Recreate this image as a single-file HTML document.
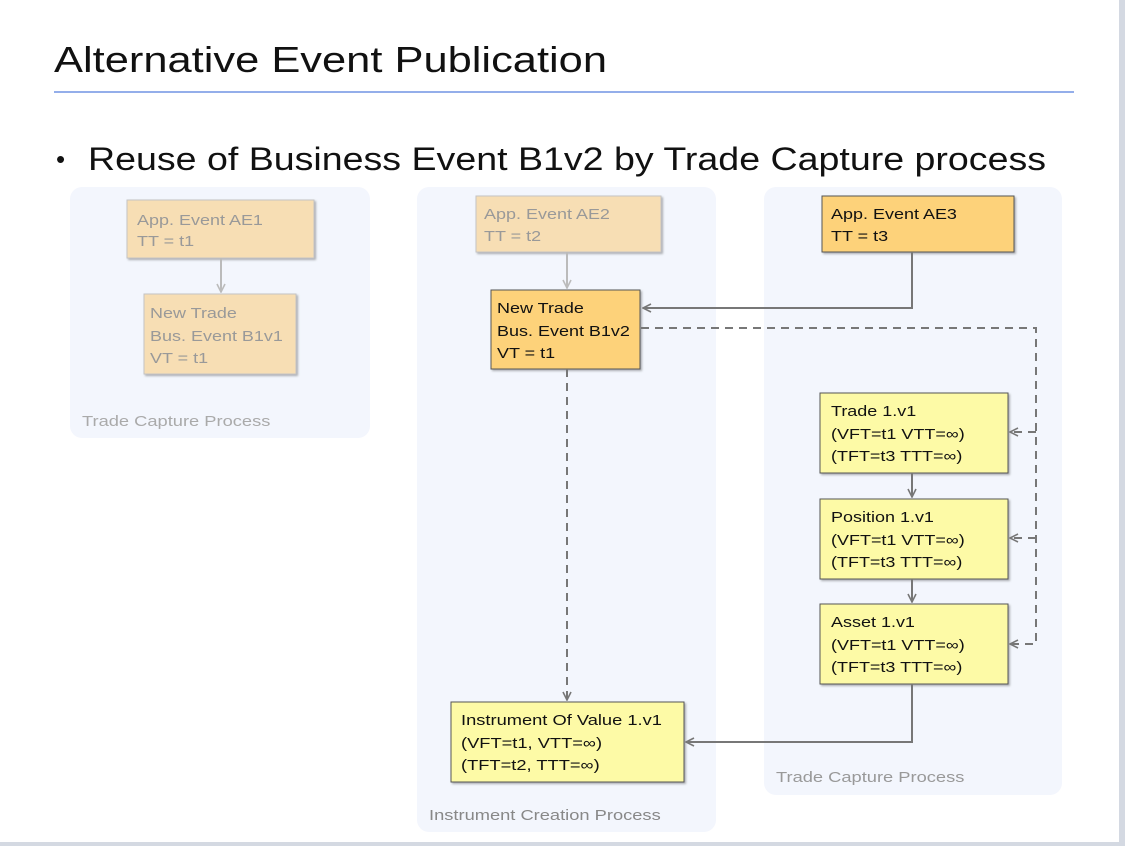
<!DOCTYPE html>
<html><head><meta charset="utf-8"><style>
html,body{margin:0;padding:0;background:#fff;}
svg{display:block;font-family:"Liberation Sans",sans-serif;}
</style></head><body>
<svg width="1125" height="846" viewBox="0 0 1125 846" xmlns="http://www.w3.org/2000/svg">
<defs>
<marker id="a" viewBox="0 0 10 10" refX="9" refY="5" markerWidth="10" markerHeight="10" markerUnits="userSpaceOnUse" orient="auto"><path d="M1,1 L9,5 L1,9" fill="none" stroke="#777" stroke-width="1.6"/></marker>
<marker id="al" viewBox="0 0 10 10" refX="9" refY="5" markerWidth="10" markerHeight="10" markerUnits="userSpaceOnUse" orient="auto"><path d="M1,1 L9,5 L1,9" fill="none" stroke="#bbb" stroke-width="1.6"/></marker>
<filter id="sh"><feDropShadow dx="1.5" dy="1.5" stdDeviation="1" flood-color="#000" flood-opacity="0.3"/></filter>
</defs>
<rect x="1119" y="0" width="6" height="846" fill="#d4d9e2"/>
<rect x="0" y="842" width="1125" height="4" fill="#d4d9e2"/>
<text x="54" y="72" font-size="36" fill="#111" textLength="553" lengthAdjust="spacingAndGlyphs">Alternative Event Publication</text>
<line x1="54" y1="92" x2="1074" y2="92" stroke="#94aeea" stroke-width="2"/>
<text x="56" y="168" font-size="26" fill="#111">•</text>
<text x="88" y="170" font-size="32" fill="#111" textLength="958" lengthAdjust="spacingAndGlyphs">Reuse of Business Event B1v2 by Trade Capture process</text>

<rect x="70" y="187" width="300" height="251" rx="12" fill="#f3f6fd"/>
<rect x="417" y="187" width="299" height="645" rx="12" fill="#f3f6fd"/>
<rect x="764" y="187" width="298" height="608" rx="12" fill="#f3f6fd"/>

<rect x="127" y="200" width="187" height="58" fill="#f7deb4" stroke="#c4c4c4" filter="url(#sh)"/>
<rect x="144" y="294" width="152" height="80" fill="#f7deb4" stroke="#c4c4c4" filter="url(#sh)"/>
<rect x="476" y="196" width="185" height="56" fill="#f7deb4" stroke="#c4c4c4" filter="url(#sh)"/>
<rect x="491" y="290" width="149" height="79" fill="#fdd27a" stroke="#555" filter="url(#sh)"/>
<rect x="822" y="196" width="192" height="56" fill="#fdd27a" stroke="#555" filter="url(#sh)"/>
<rect x="820" y="393" width="188" height="80" fill="#fdfaa6" stroke="#555" filter="url(#sh)"/>
<rect x="820" y="499" width="188" height="80" fill="#fdfaa6" stroke="#555" filter="url(#sh)"/>
<rect x="820" y="604" width="188" height="80" fill="#fdfaa6" stroke="#555" filter="url(#sh)"/>
<rect x="451" y="702" width="233" height="80" fill="#fdfaa6" stroke="#555" filter="url(#sh)"/>

<g font-size="15">
<g transform="translate(82,0) scale(1.22,1)"><text y="426" fill="#aaa">Trade Capture Process</text></g>
<g transform="translate(429,0) scale(1.22,1)"><text y="820" fill="#888">Instrument Creation Process</text></g>
<g transform="translate(776,0) scale(1.22,1)"><text y="782" fill="#999">Trade Capture Process</text></g>

<g transform="translate(137,0) scale(1.2,1)" fill="#999"><text y="225">App. Event AE1</text><text y="246">TT = t1</text></g>
<g transform="translate(150,0) scale(1.2,1)" fill="#999"><text y="318">New Trade</text><text y="341">Bus. Event B1v1</text><text y="363">VT = t1</text></g>
<g transform="translate(484,0) scale(1.2,1)" fill="#999"><text y="219">App. Event AE2</text><text y="241">TT = t2</text></g>
<g transform="translate(497,0) scale(1.2,1)" fill="#111"><text y="313">New Trade</text><text y="336">Bus. Event B1v2</text><text y="358">VT = t1</text></g>
<g transform="translate(831,0) scale(1.2,1)" fill="#111"><text y="219">App. Event AE3</text><text y="241">TT = t3</text></g>
<g transform="translate(831,0) scale(1.2,1)" fill="#111"><text y="416">Trade 1.v1</text><text y="439">(VFT=t1 VTT=∞)</text><text y="461">(TFT=t3 TTT=∞)</text></g>
<g transform="translate(831,0) scale(1.2,1)" fill="#111"><text y="522">Position 1.v1</text><text y="545">(VFT=t1 VTT=∞)</text><text y="567">(TFT=t3 TTT=∞)</text></g>
<g transform="translate(831,0) scale(1.2,1)" fill="#111"><text y="627">Asset 1.v1</text><text y="650">(VFT=t1 VTT=∞)</text><text y="672">(TFT=t3 TTT=∞)</text></g>
<g transform="translate(461,0) scale(1.22,1)" fill="#111"><text y="725">Instrument Of Value 1.v1</text><text y="748">(VFT=t1, VTT=∞)</text><text y="770">(TFT=t2, TTT=∞)</text></g>
</g>

<line x1="221" y1="258" x2="221" y2="292" stroke="#bbb" stroke-width="2" marker-end="url(#al)"/>
<line x1="567" y1="252" x2="567" y2="288" stroke="#bbb" stroke-width="2" marker-end="url(#al)"/>
<g stroke="#777" stroke-width="2" fill="none">
<polyline points="912,252 912,308 643,308" marker-end="url(#a)"/>
<line x1="912" y1="473" x2="912" y2="497" marker-end="url(#a)"/>
<line x1="912" y1="579" x2="912" y2="602" marker-end="url(#a)"/>
<polyline points="912,684 912,742 686,742" marker-end="url(#a)"/>
<g stroke-dasharray="8,6">
<polyline points="641,328 1036,328 1036,644 1010,644" marker-end="url(#a)"/>
<line x1="1036" y1="432" x2="1010" y2="432" marker-end="url(#a)"/>
<line x1="1036" y1="538" x2="1010" y2="538" marker-end="url(#a)"/>
<line x1="567" y1="369" x2="567" y2="700" marker-end="url(#a)"/>
</g>
</g>
</svg>
</body></html>
